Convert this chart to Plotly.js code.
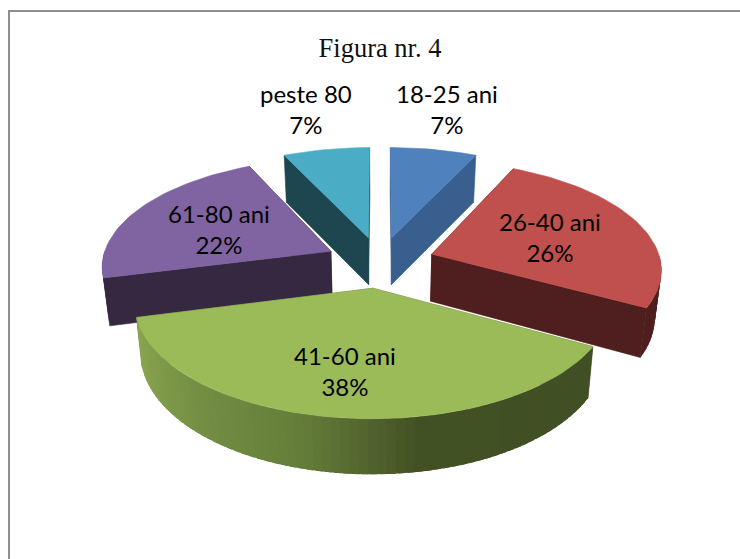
<!DOCTYPE html>
<html>
<head>
<meta charset="utf-8">
<script src="https://cdn.plot.ly/plotly-3.0.1.min.js"></script>
<style>html,body{margin:0;padding:0;background:#fff}#chart{width:740px;height:559px}</style>
</head>
<body>
<div id="chart"></div>
<script>
// Data
var categories = ['18-25 ani', '26-40 ani', '41-60 ani', '61-80 ani', 'peste 80'];
var percents = [7, 26, 38, 22, 7];
// Styles
var topColors = ['#4f81bd', '#c0504d', '#9bbb59', '#8064a2', '#4bacc6'];
var wallColors = ['#395f8e', '#4e1f1e', '#5a7232', '#362840', '#1d4650'];
var labelX = [447, 550, 345, 219, 306];
var labelY = [108.5, 236.5, 370.5, 228.5, 108.5];
var drawOrder = [4, 0, 3, 1, 2];
// Projection of the tilted, exploded pie
var cx = 380, cy = 262, R = 229, tilt = 107, persp = 0.125, explode = 0.24, depth = 47, shrink = 0.977;
function scale(v) { return 1 / (1 - persp * v); }
function project(u, v, low) {
  var s = scale(v);
  var x = R * u * s, y = tilt * v * s;
  if (low) { x *= shrink; y += depth * (v > 0 ? s : 1); }
  return [cx + x, cy + y];
}
function ground(deg, mid, r) {
  var a = deg * Math.PI / 180, m = mid * Math.PI / 180;
  return [explode * Math.sin(m) + r * Math.sin(a), -explode * Math.cos(m) - r * Math.cos(a)];
}
function poly(points, color, w) {
  return {
    type: 'scatter', mode: 'lines', fill: 'toself', fillcolor: color,
    x: points.map(function (p) { return p[0]; }), y: points.map(function (p) { return p[1]; }),
    line: { color: color, width: w }, hoverinfo: 'skip', showlegend: false
  };
}
function mix(a, b, t) {
  return 'rgb(' + a.map(function (c, i) { return Math.round(c + (b[i] - c) * t); }).join(',') + ')';
}
var greenStops = [[130, [65, 80, 36]], [170, [66, 81, 36]], [195, [100, 125, 58]], [225, [118, 145, 68]], [256, [140, 168, 80]]];
function wallColor(i, deg) {
  if (i !== 2) return wallColors[i];
  if (deg <= greenStops[0][0]) return mix(greenStops[0][1], greenStops[0][1], 0);
  for (var k = 1; k < greenStops.length; k++) {
    if (deg <= greenStops[k][0]) {
      var a = greenStops[k - 1], b = greenStops[k];
      return mix(a[1], b[1], (deg - a[0]) / (b[0] - a[0]));
    }
  }
  return mix(greenStops[4][1], greenStops[4][1], 0);
}

var total = percents.reduce(function (a, b) { return a + b; }, 0);
var starts = [], acc = 0;
percents.forEach(function (p) { starts.push(acc / total * 360); acc += p; });

var traces = [];
drawOrder.forEach(function (i) {
  var a0 = starts[i], a1 = a0 + percents[i] / total * 360, mid = (a0 + a1) / 2;
  var c = ground(0, mid, 0), step = 2;
  var pt = function (deg, low) { var g = ground(deg, mid, 1); return project(g[0], g[1], low); };
  var apexHi = project(c[0], c[1], false), apexLo = project(c[0], c[1], true);
  // radial walls
  traces.push(poly([apexHi, pt(a0, false), pt(a0, true), apexLo, apexHi], wallColors[i], 0.6));
  traces.push(poly([apexHi, pt(a1, false), pt(a1, true), apexLo, apexHi], wallColors[i], 0.6));
  // outer wall, only where it faces the viewer; each strip overlaps the next so no seams show
  var from = Math.max(a0, 90), to = Math.min(a1, 270);
  for (var d = from; d < to; d += step) {
    var e = Math.min(d + step + 1.5, to);
    traces.push(poly([pt(d, false), pt(e, false), pt(e, true), pt(d, true), pt(d, false)], wallColor(i, d + step / 2), 0));
  }
  // top face
  var top = [apexHi];
  for (var t = a0; t < a1; t += step) top.push(pt(t, false));
  top.push(pt(a1, false)); top.push(apexHi);
  traces.push(poly(top, topColors[i], 0.6));
});

var annotations = categories.map(function (name, i) {
  return {
    x: labelX[i], y: labelY[i], xref: 'x', yref: 'y', showarrow: false,
    text: name + '<br>' + percents[i] + '%', align: 'center',
    font: { family: 'Lato, "Open Sans", sans-serif', size: 24, color: '#000' }
  };
});

var layout = {
  width: 740, height: 559, margin: { l: 0, r: 0, t: 0, b: 0 },
  paper_bgcolor: '#fff', plot_bgcolor: '#fff', showlegend: false,
  title: { text: 'Figura nr. 4', x: 380 / 740, y: 1 - 48 / 559, xanchor: 'center', yanchor: 'middle',
    xref: 'paper', yref: 'paper', font: { family: '"Liberation Serif", serif', size: 26.5, color: '#111' } },
  xaxis: { range: [0, 740], visible: false, fixedrange: true },
  yaxis: { range: [559, 0], visible: false, fixedrange: true },
  annotations: annotations,
  shapes: [
    { type: 'line', xref: 'x', yref: 'y', x0: 9, x1: 9, y0: 11, y1: 559, line: { color: '#8f8f8f', width: 2 } },
    { type: 'line', xref: 'x', yref: 'y', x0: 8, x1: 740, y0: 11, y1: 11, line: { color: '#8f8f8f', width: 2 } }
  ]
};
Plotly.newPlot('chart', traces, layout, { displayModeBar: false, staticPlot: true });
</script>
</body>
</html>
